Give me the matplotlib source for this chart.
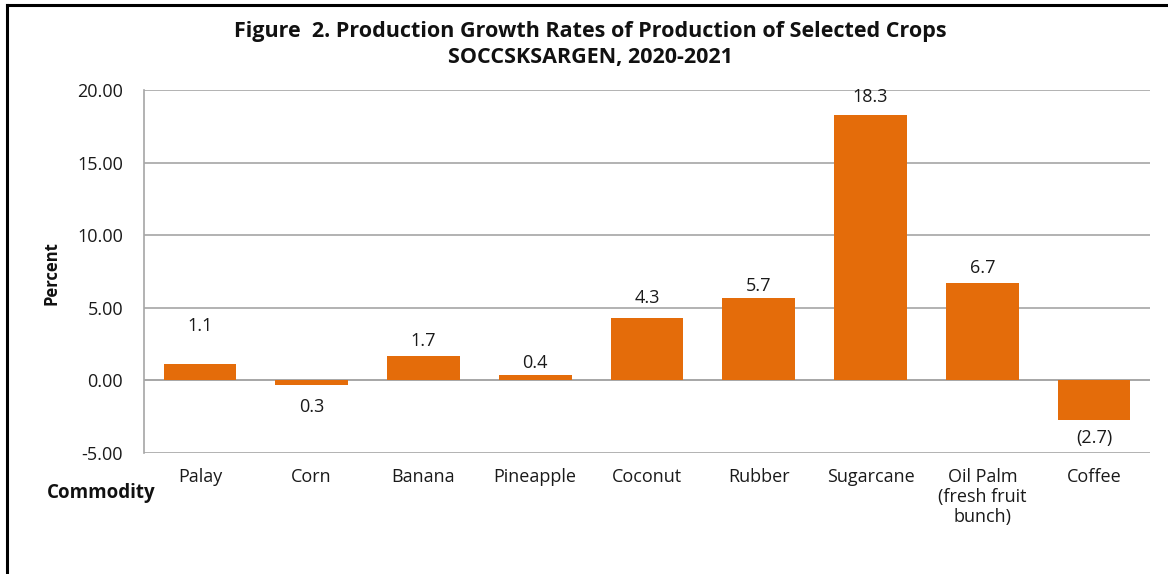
import matplotlib
matplotlib.use("Agg")
import matplotlib.pyplot as plt
from matplotlib.lines import Line2D

categories = ["Palay", "Corn", "Banana", "Pineapple", "Coconut", "Rubber",
              "Sugarcane", "Oil Palm\n(fresh fruit\nbunch)", "Coffee"]
values = [1.1, -0.3, 1.7, 0.4, 4.3, 5.7, 18.3, 6.7, -2.7]
value_labels = ["1.1", "0.3", "1.7", "0.4", "4.3", "5.7", "18.3", "6.7", "(2.7)"]
y_ticks = [-5, 0, 5, 10, 15, 20]
y_tick_labels = ["-5.00", "0.00", "5.00", "10.00", "15.00", "20.00"]

plt.rcParams['font.family'] = ['Open Sans', 'DejaVu Sans']
W, H = 1168, 574
fig = plt.figure(figsize=(W / 100, H / 100), dpi=100)
ax = fig.add_axes([144 / W, 1 - 453 / H, (1150 - 144) / W, (453 - 90) / H])

color = "#E46C0A"
txt = "#1a1a1a"
x = list(range(len(categories)))
ax.bar(x, values, width=0.65, color=color, zorder=3)

ax.set_xlim(-0.5, len(categories) - 0.5)
ax.set_ylim(-5, 20)
ax.set_yticks(y_ticks)
ax.set_yticklabels(y_tick_labels, fontsize=13, color=txt)
ax.set_xticks(x)
ax.set_xticklabels(categories, fontsize=13, color=txt, linespacing=1.15, va="top")
ax.tick_params(axis="both", length=0)
ax.tick_params(axis="y", pad=15)
ax.tick_params(axis="x", pad=11)
ax.grid(axis="y", color="#a6a6a6", linewidth=1.2, zorder=0)
for s in ["top", "right", "bottom"]:
    ax.spines[s].set_visible(False)
ax.spines["left"].set_color("#a6a6a6")
ax.spines["left"].set_linewidth(1.2)
ax.axhline(0, color="#a6a6a6", linewidth=1.2, zorder=2)

# label centre offsets in pixels from bar end (positive: above, negative: below)
offsets_px = [38, -22, 15, 12, 20, 12, 18, 15, -18]
for xi, v, lab, off in zip(x, values, value_labels, offsets_px):
    anchor = max(v, 0) if off >= 0 else min(v, 0)
    ax.annotate(lab, (xi, anchor), xytext=(0, off * 0.72), textcoords="offset points",
                ha="center", va="center", fontsize=13, color=txt)

fig.text(590 / W, 1 - 32 / H, "Figure  2. Production Growth Rates of Production of Selected Crops",
         ha="center", va="center", fontsize=15.5, fontweight="bold", color="#111111")
fig.text(590 / W, 1 - 57 / H, "SOCCSKSARGEN, 2020-2021",
         ha="center", va="center", fontsize=15.5, fontweight="bold", color="#111111")
fig.text(51 / W, 1 - 273 / H, "Percent", rotation=90, ha="center", va="center",
         fontsize=12, fontweight="bold", color="#111111")
fig.text(47 / W, 1 - 493 / H, "Commodity", ha="left", va="center",
         fontsize=13.5, fontweight="bold", color="#111111")

# outer frame (left and top)
fig.add_artist(Line2D([7 / W, 7 / W], [0, 1 - 5 / H], color="black", linewidth=2.2,
                      transform=fig.transFigure))
fig.add_artist(Line2D([7 / W, 1], [1 - 5 / H, 1 - 5 / H], color="black", linewidth=2.2,
                      transform=fig.transFigure))

fig.savefig("out.png", dpi=100)
